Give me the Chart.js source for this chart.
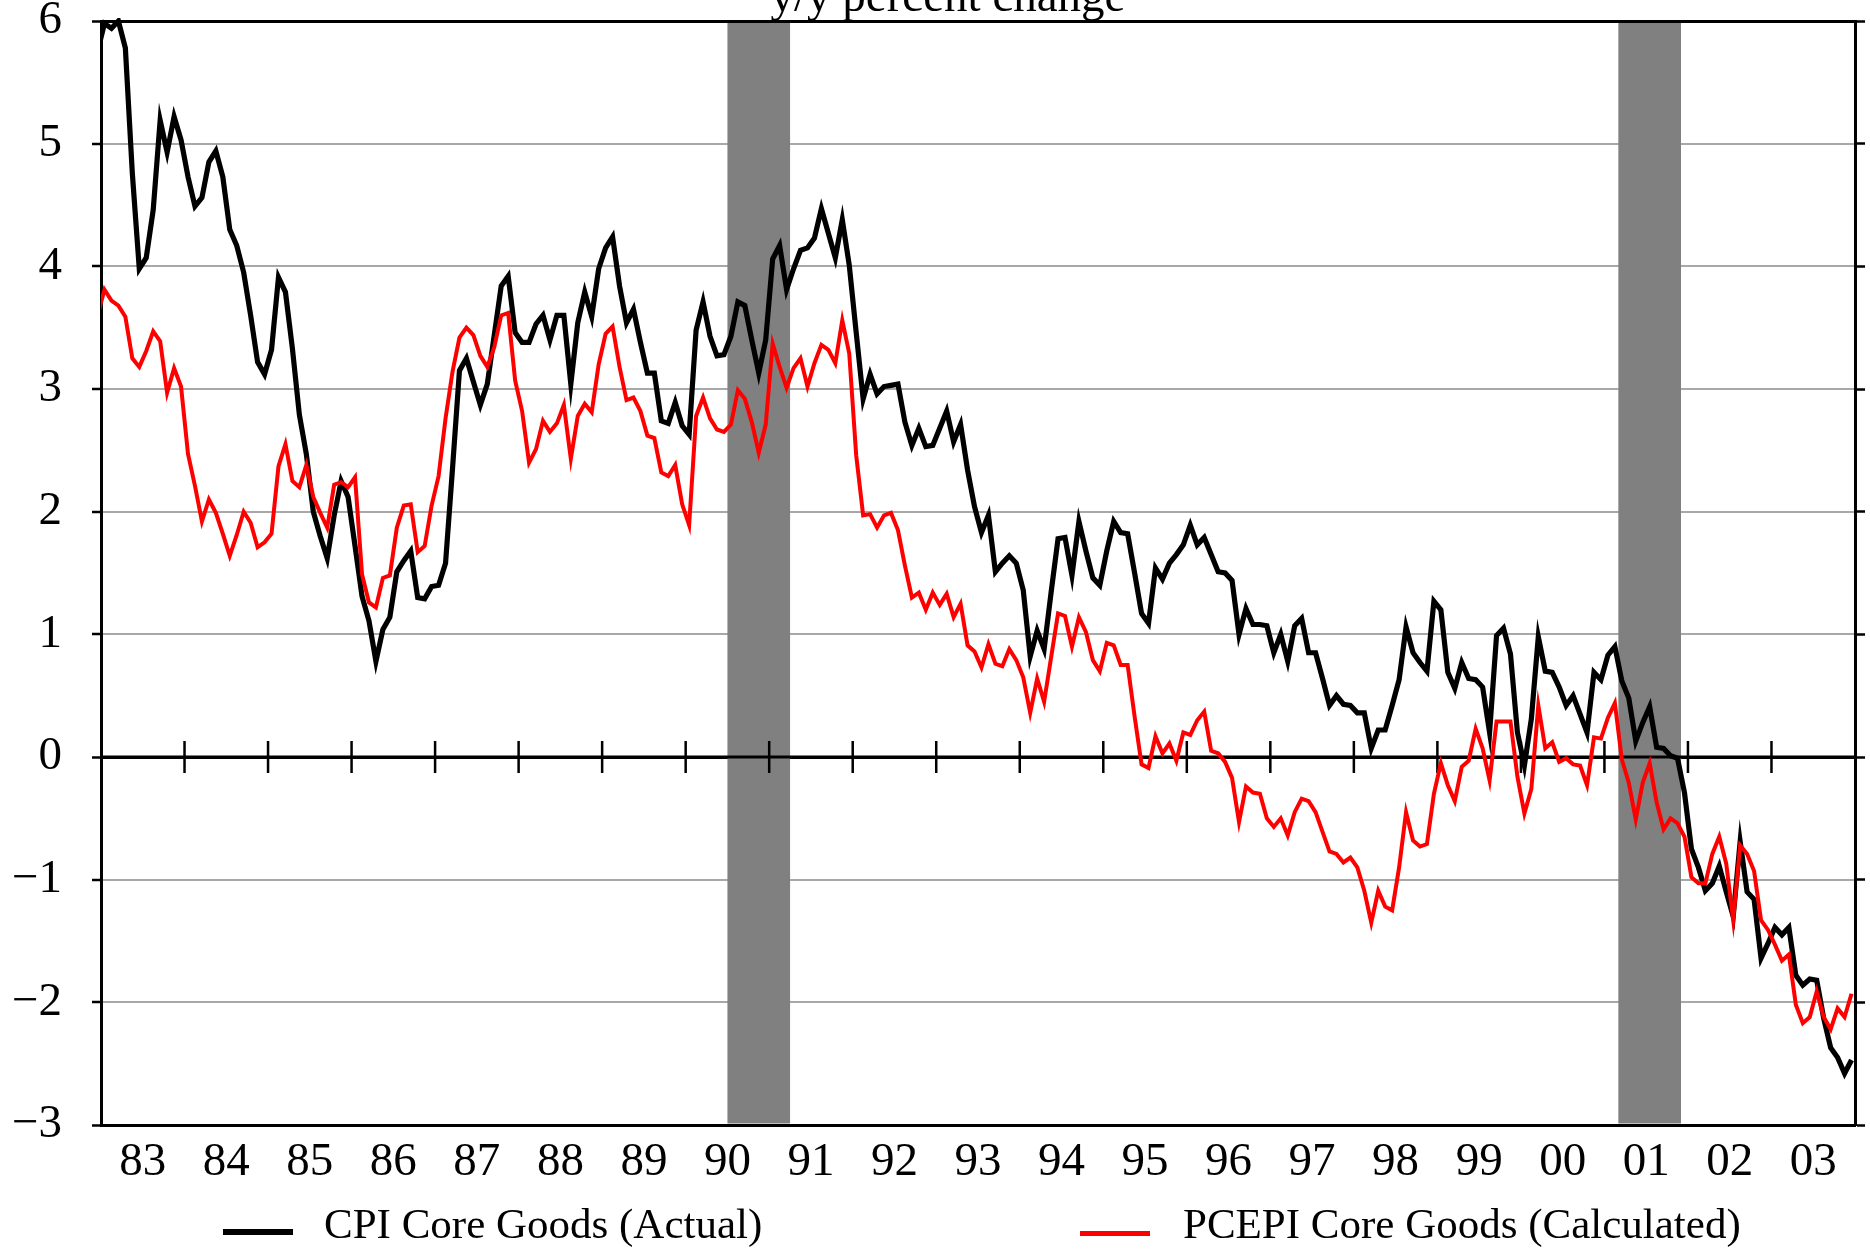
<!DOCTYPE html>
<html>
<head>
<meta charset="utf-8">
<title>CPI vs PCEPI Core Goods</title>
<script src="https://cdn.jsdelivr.net/npm/chart.js@4.4.1/dist/chart.umd.min.js"></script>
<style>
  html, body { margin: 0; background: #fff; }
  #wrap { position: relative; width: 1870px; height: 1249px; overflow: hidden;
          font-family: 'Liberation Serif', 'Times New Roman', serif; color: #000; }
  #chart { position: absolute; left: 0; top: 0; }
  .title { position: absolute; left: 0; width: 1896px; top: -28px; text-align: center;
           font-size: 47px; line-height: 47px; white-space: nowrap; }
  .key { position: absolute; top: 1202px; font-size: 43px; line-height: 43px; white-space: nowrap; }
  .swatch { position: absolute; width: 70px; }
</style>
</head>
<body>
<div id="wrap">
  <canvas id="chart" width="1870" height="1249"></canvas>
  <div class="title">y/y percent change</div>
  <div class="swatch" style="left:223px; top:1229px; height:6px; background:#000"></div>
  <div class="key" style="left:324px">CPI Core Goods (Actual)</div>
  <div class="swatch" style="left:1080px; top:1231px; height:5px; background:#ff0000"></div>
  <div class="key" style="left:1183px">PCEPI Core Goods (Calculated)</div>
</div>
<script>
// monthly y/y % change, Dec 1982 through Dec 2003 (first value sits just left of the axis)
const yearLabels = ['83','84','85','86','87','88','89','90','91','92','93','94','95','96','97','98','99','00','01','02','03'];

const cpiCoreGoods = [
  5.75,
  5.98, 5.94, 6.00, 5.78, 4.76, 3.98, 4.07, 4.46, 5.19, 4.93, 5.22, 5.03,
  4.73, 4.49, 4.56, 4.85, 4.94, 4.73, 4.30, 4.17, 3.95, 3.60, 3.22, 3.12,
  3.32, 3.91, 3.79, 3.33, 2.79, 2.47, 2.00, 1.80, 1.62, 1.97, 2.25, 2.12,
  1.72, 1.31, 1.11, 0.78, 1.04, 1.14, 1.51, 1.60, 1.68, 1.30, 1.29, 1.39,
  1.40, 1.58, 2.35, 3.15, 3.25, 3.06, 2.87, 3.04, 3.44, 3.84, 3.92, 3.46,
  3.38, 3.38, 3.53, 3.60, 3.40, 3.60, 3.60, 3.04, 3.54, 3.79, 3.59, 3.98,
  4.15, 4.24, 3.84, 3.54, 3.65, 3.38, 3.13, 3.13, 2.74, 2.72, 2.89, 2.70,
  2.63, 3.48, 3.71, 3.43, 3.27, 3.28, 3.43, 3.71, 3.68, 3.40, 3.13, 3.40,
  4.06, 4.17, 3.81, 3.98, 4.13, 4.15, 4.23, 4.47, 4.27, 4.07, 4.38, 4.01,
  3.46, 2.92, 3.12, 2.96, 3.02, 3.03, 3.04, 2.73, 2.54, 2.68, 2.53, 2.54,
  2.68, 2.82, 2.57, 2.71, 2.34, 2.04, 1.83, 1.97, 1.51, 1.58, 1.64, 1.58,
  1.36, 0.82, 1.03, 0.88, 1.34, 1.78, 1.79, 1.48, 1.92, 1.68, 1.46, 1.40,
  1.68, 1.92, 1.83, 1.82, 1.50, 1.17, 1.09, 1.54, 1.45, 1.58, 1.65, 1.73,
  1.89, 1.73, 1.79, 1.65, 1.51, 1.50, 1.44, 1.00, 1.21, 1.08, 1.08, 1.07,
  0.85, 1.00, 0.78, 1.07, 1.13, 0.85, 0.85, 0.64, 0.42, 0.50, 0.43, 0.42,
  0.36, 0.36, 0.07, 0.22, 0.22, 0.42, 0.63, 1.06, 0.85, 0.77, 0.70, 1.27,
  1.20, 0.69, 0.56, 0.77, 0.64, 0.63, 0.57, 0.20, 0.99, 1.05, 0.84, 0.20,
  -0.07, 0.31, 0.98, 0.70, 0.69, 0.57, 0.42, 0.50, 0.35, 0.20, 0.69, 0.63,
  0.83, 0.90, 0.62, 0.48, 0.13, 0.28, 0.41, 0.08, 0.07, 0.01, -0.01, -0.29,
  -0.75, -0.90, -1.09, -1.03, -0.89, -1.10, -1.30, -0.69, -1.10, -1.16, -1.64, -1.52,
  -1.39, -1.45, -1.39, -1.78, -1.86, -1.81, -1.82, -2.13, -2.37, -2.45, -2.58, -2.47
];

const pcepiCoreGoods = [
  3.60,
  3.81, 3.72, 3.68, 3.59, 3.25, 3.18, 3.31, 3.47, 3.39, 2.97, 3.17, 3.02,
  2.47, 2.21, 1.92, 2.10, 1.99, 1.82, 1.64, 1.81, 2.00, 1.91, 1.71, 1.75,
  1.82, 2.37, 2.55, 2.25, 2.20, 2.38, 2.12, 1.99, 1.87, 2.22, 2.24, 2.20,
  2.28, 1.49, 1.26, 1.22, 1.46, 1.48, 1.87, 2.05, 2.06, 1.67, 1.72, 2.05,
  2.29, 2.76, 3.14, 3.42, 3.50, 3.44, 3.27, 3.18, 3.34, 3.60, 3.62, 3.07,
  2.82, 2.40, 2.51, 2.74, 2.65, 2.72, 2.87, 2.43, 2.78, 2.88, 2.81, 3.20,
  3.45, 3.51, 3.18, 2.91, 2.93, 2.82, 2.62, 2.60, 2.32, 2.29, 2.38, 2.06,
  1.89, 2.78, 2.93, 2.76, 2.67, 2.65, 2.71, 2.99, 2.92, 2.73, 2.48, 2.71,
  3.37, 3.18, 3.01, 3.17, 3.25, 3.02, 3.21, 3.36, 3.32, 3.21, 3.56, 3.29,
  2.46, 1.97, 1.98, 1.87, 1.97, 1.99, 1.85, 1.56, 1.30, 1.34, 1.20, 1.34,
  1.24, 1.33, 1.14, 1.25, 0.91, 0.86, 0.73, 0.92, 0.76, 0.74, 0.88, 0.79,
  0.65, 0.36, 0.64, 0.45, 0.81, 1.17, 1.15, 0.90, 1.14, 1.02, 0.79, 0.70,
  0.93, 0.91, 0.75, 0.75, 0.33, -0.06, -0.09, 0.17, 0.03, 0.11, -0.03, 0.20,
  0.18, 0.30, 0.37, 0.05, 0.03, -0.04, -0.17, -0.53, -0.24, -0.29, -0.30, -0.50,
  -0.57, -0.50, -0.64, -0.45, -0.34, -0.36, -0.45, -0.61, -0.77, -0.79, -0.86, -0.82,
  -0.90, -1.09, -1.35, -1.09, -1.22, -1.25, -0.90, -0.45, -0.68, -0.73, -0.71, -0.30,
  -0.05, -0.23, -0.36, -0.08, -0.03, 0.23, 0.07, -0.19, 0.29, 0.29, 0.29, -0.16,
  -0.46, -0.26, 0.42, 0.07, 0.12, -0.04, -0.01, -0.06, -0.07, -0.23, 0.16, 0.15,
  0.32, 0.44, -0.02, -0.21, -0.51, -0.21, -0.05, -0.37, -0.59, -0.50, -0.54, -0.65,
  -0.98, -1.03, -1.03, -0.79, -0.65, -0.87, -1.33, -0.72, -0.79, -0.93, -1.33, -1.41,
  -1.53, -1.66, -1.61, -2.02, -2.17, -2.12, -1.91, -2.12, -2.22, -2.05, -2.12, -1.93
];

// NBER recessions, first and last month
const recessions = [['1990-07', '1991-03'], ['2001-03', '2001-11']];

const startYear = 1983;
const monthIndex = s => (parseInt(s.slice(0, 4)) - startYear) * 12 + parseInt(s.slice(5, 7)) - 1;
// points are plotted mid-month; array starts one month before Jan 1983
const toPoints = arr => arr.map((v, k) => ({ x: k - 0.5, y: v }));

const serif = "'Liberation Serif', 'Times New Roman', serif";

const shading = {
  id: 'shading',
  beforeDatasetsDraw(chart) {
    const { ctx, chartArea: a, scales: { x, y } } = chart;
    ctx.save();
    ctx.fillStyle = '#808080';
    recessions.forEach(([s, e]) => {
      const x0 = x.getPixelForValue(monthIndex(s));
      const x1 = x.getPixelForValue(monthIndex(e) + 1);
      ctx.fillRect(x0, a.top + 2, x1 - x0, a.bottom - a.top - 3.5);
    });
    // zero line with year ticks sits above the shading
    const y0 = y.getPixelForValue(0);
    ctx.strokeStyle = '#000';
    ctx.lineWidth = 3;
    ctx.beginPath();
    ctx.moveTo(a.left, y0);
    ctx.lineTo(a.right, y0);
    ctx.stroke();
    ctx.lineWidth = 2.5;
    ctx.beginPath();
    for (let k = 1; k < yearLabels.length; k++) {
      const px = x.getPixelForValue(12 * k);
      ctx.moveTo(px, y0 - 16);
      ctx.lineTo(px, y0 + 16);
    }
    ctx.stroke();
    ctx.restore();
  }
};

const edge = v => v === 0 || v === 6 || v === -3;

new Chart(document.getElementById('chart'), {
  type: 'line',
  data: {
    datasets: [{
      label: 'CPI Core Goods (Actual)',
      data: toPoints(cpiCoreGoods),
      borderColor: '#000',
      borderWidth: 5.2,
      pointRadius: 0,
      tension: 0,
      order: 2,
      clip: { left: 0, right: 0, top: 3, bottom: 3 }
    }, {
      label: 'PCEPI Core Goods (Calculated)',
      data: toPoints(pcepiCoreGoods),
      borderColor: '#ff0000',
      borderWidth: 4,
      pointRadius: 0,
      tension: 0,
      order: 1,
      clip: { left: 0, right: 0, top: 3, bottom: 3 }
    }]
  },
  options: {
    responsive: false,
    animation: false,
    devicePixelRatio: 1,
    layout: { padding: { top: 21, right: 0, bottom: 0, left: 0 } },
    plugins: { legend: { display: false }, tooltip: { enabled: false } },
    scales: {
      x: {
        type: 'linear',
        min: 0,
        max: 252,
        afterBuildTicks: s => { s.ticks = yearLabels.map((_, k) => ({ value: 12 * k + 6 })); },
        afterFit: s => { s.height = 124; },
        ticks: {
          autoSkip: false, maxRotation: 0, padding: 9, color: '#000',
          font: { family: serif, size: 47 },
          callback: v => yearLabels[Math.floor(v / 12)]
        },
        grid: { drawOnChartArea: false, drawTicks: false },
        border: { color: '#000', width: 3 }
      },
      y: {
        min: -3,
        max: 6,
        afterFit: s => { s.width = 101; s.paddingTop = 0; s.paddingBottom = 0; },
        ticks: {
          stepSize: 1, padding: 30, color: '#000',
          font: { family: serif, size: 47, lineHeight: 0.8 },
          callback: v => v < 0 ? '\u2212' + Math.abs(v) : String(v)
        },
        grid: {
          color: c => edge(c.tick.value) ? '#000' : '#a8a8a8',
          lineWidth: c => edge(c.tick.value) ? 3 : 2,
          tickLength: 9, tickColor: '#000', tickWidth: 2.5
        },
        border: { color: '#000', width: 3 }
      },
      y2: {
        position: 'right',
        min: -3,
        max: 6,
        afterFit: s => { s.width = 15; s.paddingTop = 0; s.paddingBottom = 0; },
        ticks: { stepSize: 1, display: false },
        grid: { drawOnChartArea: false, tickLength: 10, tickColor: '#000', tickWidth: 2.5 },
        border: { color: '#000', width: 3 }
      }
    }
  },
  plugins: [shading]
});
</script>
</body>
</html>
